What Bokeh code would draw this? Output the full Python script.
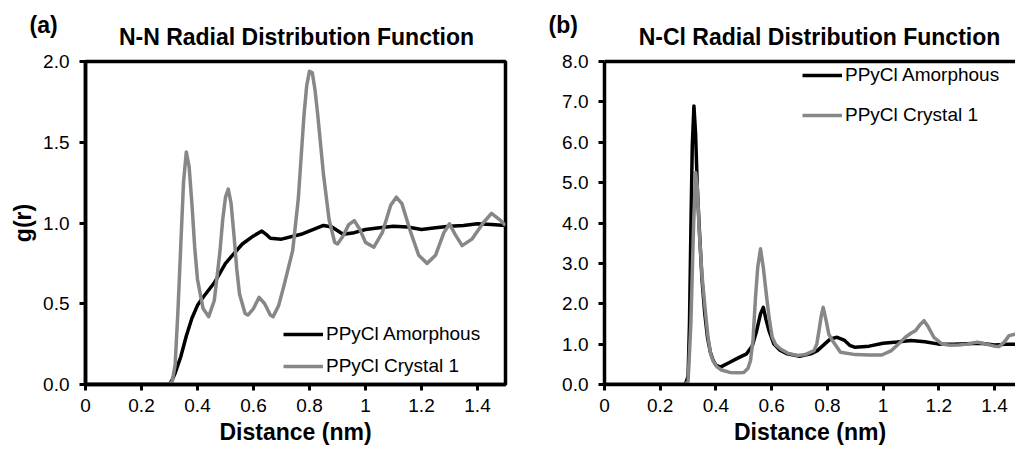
from bokeh.plotting import figure
from bokeh.layouts import row, column
from bokeh.models import (Legend, LegendItem, LinearAxis, FixedTicker,
                          PrintfTickFormatter, Range1d)
from bokeh.core.properties import value
from bokeh.embed import file_html
from bokeh.resources import INLINE

FONT = "Liberation Sans"
GRAY = "#878787"

# ---------------- data ----------------
# Panel (a): N-N RDF
r_nn_amorphous = [0, 0.30, 0.31, 0.32, 0.34, 0.36, 0.38, 0.40, 0.42, 0.46, 0.50, 0.53,
                  0.56, 0.60, 0.63, 0.645, 0.66, 0.70, 0.77, 0.85, 0.88, 0.92, 0.96,
                  1.00, 1.05, 1.10, 1.15, 1.20, 1.25, 1.30, 1.35, 1.40, 1.45, 1.50]
g_nn_amorphous = [0, 0, 0.03, 0.07, 0.17, 0.30, 0.41, 0.49, 0.54, 0.63, 0.75, 0.81,
                  0.87, 0.92, 0.95, 0.93, 0.905, 0.90, 0.93, 0.985, 0.975, 0.93, 0.94,
                  0.96, 0.97, 0.98, 0.975, 0.96, 0.97, 0.98, 0.985, 0.995, 0.99, 0.985]

r_nn_crystal = [0, 0.30, 0.31, 0.32, 0.33, 0.34, 0.35, 0.36, 0.37, 0.38, 0.39, 0.40,
                0.42, 0.44, 0.46, 0.48, 0.49, 0.50, 0.51, 0.52, 0.53, 0.54, 0.55, 0.57,
                0.58, 0.60, 0.62, 0.64, 0.66, 0.67, 0.69, 0.71, 0.74, 0.76, 0.78, 0.79,
                0.80, 0.81, 0.82, 0.83, 0.85, 0.87, 0.89, 0.90, 0.92, 0.94, 0.96, 0.98,
                1.00, 1.03, 1.06, 1.09, 1.11, 1.13, 1.16, 1.19, 1.22, 1.25, 1.28, 1.30,
                1.32, 1.345, 1.38, 1.42, 1.45, 1.48, 1.50]
g_nn_crystal = [0, 0, 0.02, 0.12, 0.45, 0.85, 1.25, 1.44, 1.35, 1.12, 0.85, 0.65,
                0.47, 0.42, 0.52, 0.82, 1.02, 1.16, 1.21, 1.12, 0.93, 0.72, 0.56, 0.44,
                0.43, 0.47, 0.54, 0.50, 0.43, 0.42, 0.49, 0.62, 0.83, 1.15, 1.66, 1.85,
                1.94, 1.93, 1.82, 1.66, 1.30, 1.02, 0.88, 0.87, 0.92, 0.99, 1.015, 0.96,
                0.88, 0.85, 0.94, 1.11, 1.16, 1.12, 0.95, 0.80, 0.75, 0.80, 0.94, 0.995,
                0.93, 0.86, 0.90, 1.00, 1.06, 1.02, 0.985]

# Panel (b): N-Cl RDF
r_ncl_amorphous = [0, 0.29, 0.30, 0.305, 0.31, 0.315, 0.321, 0.327, 0.333, 0.34, 0.35,
                   0.36, 0.37, 0.38, 0.39, 0.40, 0.416, 0.45, 0.48, 0.51, 0.53, 0.545,
                   0.56, 0.57, 0.58, 0.59, 0.608, 0.63, 0.656, 0.70, 0.74, 0.764, 0.79,
                   0.811, 0.835, 0.86, 0.88, 0.90, 0.95, 1.00, 1.05, 1.10, 1.15, 1.20,
                   1.25, 1.30, 1.35, 1.40, 1.45, 1.50]
g_ncl_amorphous = [0, 0, 0.2, 1.5, 3.8, 5.9, 6.9, 6.2, 4.9, 3.9, 2.6, 1.75, 1.15, 0.8,
                   0.6, 0.48, 0.43, 0.55, 0.66, 0.76, 0.95, 1.3, 1.75, 1.91, 1.6, 1.34,
                   1.0, 0.85, 0.76, 0.70, 0.76, 0.84, 1.0, 1.13, 1.17, 1.1, 0.97, 0.92,
                   0.95, 1.02, 1.05, 1.09, 1.06, 1.0, 1.0, 1.01, 1.02, 0.98, 1.0, 1.0]

r_ncl_crystal = [0, 0.29, 0.30, 0.31, 0.32, 0.327, 0.333, 0.34, 0.35, 0.363, 0.372,
                 0.381, 0.39, 0.405, 0.42, 0.45, 0.48, 0.50, 0.515, 0.524, 0.533, 0.542,
                 0.55, 0.56, 0.57, 0.582, 0.592, 0.602, 0.615, 0.632, 0.66, 0.692, 0.72,
                 0.752, 0.762, 0.77, 0.778, 0.785, 0.795, 0.805, 0.818, 0.847, 0.90, 0.95,
                 0.995, 1.03, 1.055, 1.08, 1.10, 1.117, 1.135, 1.147, 1.16, 1.182, 1.212,
                 1.24, 1.272, 1.30, 1.338, 1.37, 1.40, 1.416, 1.435, 1.452, 1.476, 1.50]
g_ncl_crystal = [0, 0, 0.08, 1.5, 4.0, 5.25, 4.9, 3.8, 2.7, 1.75, 1.15, 0.76, 0.58,
                 0.43, 0.36, 0.30, 0.29, 0.30, 0.40, 0.59, 1.1, 2.16, 2.9, 3.36, 2.9,
                 2.16, 1.6, 1.17, 0.98, 0.88, 0.77, 0.72, 0.74, 0.84, 1.0, 1.34, 1.7,
                 1.91, 1.6, 1.25, 1.09, 0.80, 0.74, 0.73, 0.73, 0.84, 1.0, 1.17, 1.27,
                 1.34, 1.5, 1.58, 1.45, 1.17, 1.0, 0.97, 0.98, 1.0, 1.05, 1.0, 0.95, 0.94,
                 1.05, 1.21, 1.25, 1.2]

x_ticks = [0, 0.2, 0.4, 0.6, 0.8, 1.0, 1.2, 1.4]
y_ticks_a = [0, 0.5, 1.0, 1.5, 2.0]
y_ticks_b = [0, 1, 2, 3, 4, 5, 6, 7, 8]

series_names = ["PPyCl Amorphous", "PPyCl Crystal 1"]
panel_tags = ["(a)", "(b)"]
panel_titles = ["N-N Radial Distribution Function", "N-Cl Radial Distribution Function"]
x_label = "Distance (nm)"
y_label = "g(r)"

W = 1015
HEAD = 50          # header strip holding tags and titles
FRAME_TOP = 61     # page y of the plot frames' top edge
H = 451 - HEAD     # height of the two chart panels


def style_axis(ax, standoff):
    ax.axis_line_width = 3.5
    ax.axis_line_color = "black"
    ax.major_tick_line_width = 3
    ax.major_tick_line_color = "black"
    ax.major_tick_out = 6
    ax.major_tick_in = 0
    ax.minor_tick_line_color = None
    ax.major_label_text_font = FONT
    ax.major_label_text_font_size = "19px"
    ax.major_label_text_color = "black"
    ax.major_label_standoff = standoff
    ax.axis_label_text_font = FONT
    ax.axis_label_text_font_size = "23px"
    ax.axis_label_text_font_style = "bold"
    ax.axis_label_text_color = "black"
    ax.axis_label_standoff = 4


def make_panel(width, bl, br, x_end, y_end, y_ticks, r1, g1, r2, g2, legend_loc,
               legend_spacing, with_ylabel, outline):
    top_border = FRAME_TOP - HEAD
    p = figure(width=width, height=H, x_range=Range1d(0, x_end),
               y_range=Range1d(0, y_end), output_backend="svg",
               toolbar_location=None, title=None,
               min_border_left=bl, min_border_right=br,
               min_border_top=top_border, min_border_bottom=H - top_border - 323)
    p.xgrid.visible = False
    p.ygrid.visible = False
    p.background_fill_color = "white"
    p.border_fill_color = "white"

    xb = p.below[0]
    yl = p.left[0]
    xb.ticker = FixedTicker(ticks=x_ticks)
    xb.formatter = PrintfTickFormatter(format="%g")
    yl.ticker = FixedTicker(ticks=y_ticks)
    yl.formatter = PrintfTickFormatter(format="%.1f")
    style_axis(xb, 8)
    style_axis(yl, 10)
    xb.axis_label = x_label
    if with_ylabel:
        yl.axis_label = y_label

    if outline:
        p.outline_line_color = "black"
        p.outline_line_width = 3.5
    else:
        p.outline_line_color = None
        top = LinearAxis(ticker=FixedTicker(ticks=[]))
        top.axis_line_width = 3.5
        top.axis_line_color = "black"
        top.major_tick_out = 0
        top.major_tick_in = 0
        top.minor_tick_line_color = None
        top.major_label_text_font_size = "0px"
        p.add_layout(top, "above")

    l1 = p.line(r1, g1, line_color="black", line_width=3.5, line_join="round")
    l2 = p.line(r2, g2, line_color=GRAY, line_width=3.5, line_join="round")

    leg = Legend(items=[LegendItem(label=series_names[0], renderers=[l1]),
                        LegendItem(label=series_names[1], renderers=[l2])],
                 location=legend_loc)
    leg.label_text_font = FONT
    leg.label_text_font_size = "19px"
    leg.label_text_color = "black"
    leg.glyph_width = 40
    leg.glyph_height = 22
    leg.label_height = 22
    leg.label_standoff = 3
    leg.spacing = legend_spacing
    leg.padding = 5
    leg.margin = 0
    leg.background_fill_alpha = 0
    leg.border_line_alpha = 0
    p.add_layout(leg)
    return p


# header strip: panel tags and titles (y measured downward from the page top)
head = figure(width=W, height=HEAD, x_range=Range1d(0, W), y_range=Range1d(HEAD, 0),
              output_backend="svg", toolbar_location=None, title=None,
              min_border=0)
head.axis.visible = False
head.xgrid.visible = False
head.ygrid.visible = False
head.outline_line_color = None
head.text(x=[29, 548], y=[24.5, 24.5], text=panel_tags, text_font=value(FONT),
          text_font_size="23px", text_font_style="bold", text_color="black",
          text_align="left", text_baseline="middle")
head.text(x=[296, 819], y=[36, 36], text=panel_titles, text_font=value(FONT),
          text_font_size="23px", text_font_style="bold", text_color="black",
          text_align="center", text_baseline="middle")

pa = make_panel(528, 85, 23, 1.5, 2.0, y_ticks_a, r_nn_amorphous, g_nn_amorphous,
                r_nn_crystal, g_nn_crystal, (193, 2), 10, True, True)
pb = make_panel(W - 528, 76, 0, 411 / 278.6, 8.0, y_ticks_b, r_ncl_amorphous,
                g_ncl_amorphous, r_ncl_crystal, g_ncl_crystal, (193, 253), 18,
                False, False)

layout = column(head, row(pa, pb))
open("out.html", "w").write(file_html(layout, INLINE))
